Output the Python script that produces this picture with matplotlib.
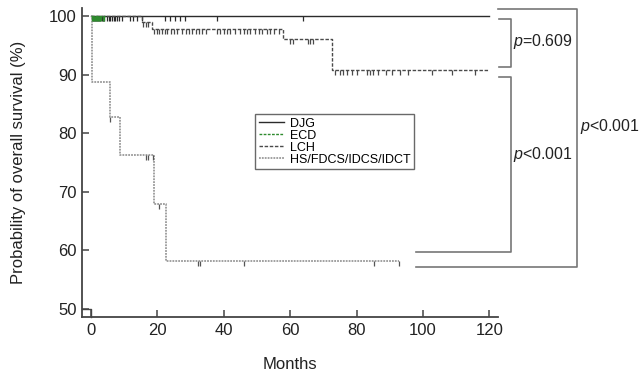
import matplotlib
matplotlib.use("Agg")
import matplotlib.pyplot as plt
from matplotlib import font_manager

FONT = "Liberation Sans Narrow"
names = {f.name for f in font_manager.fontManager.ttflist}
if FONT not in names:
    FONT = "Liberation Sans"
plt.rcParams['font.family'] = [FONT, 'DejaVu Sans']
plt.rcParams['mathtext.fontset'] = 'custom'
plt.rcParams['mathtext.it'] = FONT + ':italic'
plt.rcParams['mathtext.rm'] = FONT

# ---- data ----
djg_times = [0, 120]
djg_surv = [100, 100]
djg_censor = [0.3, 0.6, 0.9, 1.2, 1.5, 1.8, 2.1, 2.4, 2.8, 3.2, 3.6, 4.0, 4.8, 5.3, 5.8,
              6.2, 6.8, 7.3, 7.8, 8.5, 9.2, 11.7, 12.7, 13.8, 15.3, 22.3, 23.8, 25.3,
              26.8, 28.3, 38, 64]

ecd_times = [0, 4.2]
ecd_surv = [100, 100]
ecd_censor = [0.2, 0.5, 0.8, 1.1, 1.4, 1.7, 2.0, 2.3, 2.7, 3.1, 3.5, 3.9]

lch_times = [0, 15.3, 18.4, 57.8, 72.6, 120]
lch_surv = [100, 99.0, 97.8, 96.1, 90.8, 90.8]
lch_censor = [15.8, 16.5, 17.2,
              19, 19.8, 20.5, 21.5, 22.3, 23, 24, 25, 26, 27.5, 28.5, 29.5, 30.5, 31.5,
              32.5, 33.5, 34.5, 38, 39, 40, 41, 42, 43.5, 45, 46, 47, 48, 49.5, 50.5,
              51.5, 53, 54, 55, 56.5,
              60, 61, 65.4, 66, 67,
              73.5, 75, 76, 77, 78.6, 80, 83, 84, 85, 86.5, 89, 90.6, 93, 95.5, 102.7,
              108.7, 115.7]

hs_times = [0, 0.2, 5.7, 8.7, 19.0, 22.5, 92.8]
hs_surv = [100, 88.7, 82.7, 76.2, 67.8, 58.1, 58.1]
hs_censor = [5.7, 16.6, 17.2, 18.7, 20.5, 32.2, 32.8, 46, 85.2, 92.8]

labels = ["DJG", "ECD", "LCH", "HS/FDCS/IDCS/IDCT"]
p_texts = [r"$p$=0.609", r"$p$<0.001", r"$p$<0.001"]
xticks = [0, 20, 40, 60, 80, 100, 120]
yticks = [50, 60, 70, 80, 90, 100]


def surv_at(times, surv, t):
    v = surv[0]
    for ti, si in zip(times, surv):
        if ti <= t:
            v = si
    return v


fig = plt.figure(figsize=(6.43, 3.78), dpi=100)
ax = fig.add_axes([82 / 643, 1 - 317 / 378, 416 / 643, 309 / 378])

series = [
    (djg_times, djg_surv, djg_censor, dict(color="#2b2b2b", lw=1.0, ls="-")),
    (lch_times, lch_surv, lch_censor, dict(color="#4a4a4a", lw=1.0, ls=(0, (2.5, 1.2)))),
    (hs_times, hs_surv, hs_censor, dict(color="#9a9a9a", lw=1.3, ls=(0, (1, 0.6)))),
    (ecd_times, ecd_surv, ecd_censor, dict(color="#2e8b2e", lw=1.0, ls=(0, (2, 1)))),
]
handles = {}
for (t, s, c, st), lab in zip(series, ["DJG", "LCH", "HS/FDCS/IDCS/IDCT", "ECD"]):
    ln, = ax.step(t, s, where="post", label=lab, **st)
    handles[lab] = ln
    cy = [surv_at(t, s, ci) for ci in c]
    ax.plot(c, cy, ls="none", marker=3, ms=3.5, mew=0.9,
            color=st["color"] if lab != "HS/FDCS/IDCS/IDCT" else "#555555")

# small corner segment near origin
ax.plot([-2.7, 0, 0], [50, 50, 48.5], color="#444444", lw=1.0, clip_on=False)

ax.set_xlim(-2.7, 122.6)
ax.set_ylim(48.55, 101.4)
ax.set_xticks(xticks)
ax.set_yticks(yticks)
for sp in ["top", "right"]:
    ax.spines[sp].set_visible(False)
for sp in ["left", "bottom"]:
    ax.spines[sp].set_linewidth(1.3)
    ax.spines[sp].set_color("#444444")
ax.tick_params(direction="in", length=5, width=1.1, color="#444444",
               labelsize=12, labelcolor="#222222", pad=4)
ax.set_xlabel("Months", fontsize=12, color="#222222", labelpad=14)
ax.set_ylabel("Probability of overall survival (%)", fontsize=12, color="#222222", labelpad=16)

leg = ax.legend([handles[l] for l in labels], labels, loc="upper left",
                bbox_to_anchor=(0.416, 0.657), borderaxespad=0, fontsize=9,
                labelspacing=0.0, handlelength=2.0, handletextpad=0.5,
                frameon=True, fancybox=False, borderpad=0.3)
leg.get_frame().set_edgecolor("#444444")
leg.get_frame().set_linewidth(1.0)

# brackets (data coords, outside axes)
bc = "#777777"
blw = 1.2
ax.plot([122.9, 126.5, 126.5, 122.9], [99.5, 99.5, 91.3, 91.3], color=bc, lw=blw, clip_on=False)
ax.plot([122.9, 126.5, 126.5, 97.9], [89.6, 89.6, 59.7, 59.7], color=bc, lw=blw, clip_on=False)
ax.plot([122.6, 146.4, 146.4, 97.9], [101.2, 101.2, 57.1, 57.1], color=bc, lw=blw, clip_on=False)
ax.text(127.0, 95.6, p_texts[0], fontsize=11.5, color="#222222", va="center", ha="left", clip_on=False)
ax.text(127.0, 76.4, p_texts[1], fontsize=11.5, color="#222222", va="center", ha="left", clip_on=False)
ax.text(147.3, 81.2, p_texts[2], fontsize=11.5, color="#222222", va="center", ha="left", clip_on=False)

fig.savefig("out.png", dpi=100)
